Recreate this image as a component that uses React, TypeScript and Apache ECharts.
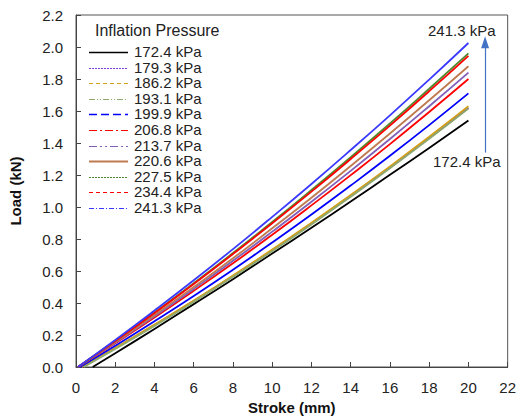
import React, { useEffect, useRef } from "react";
import * as echarts from "echarts";

const strokeTicks = [2, 4, 6, 8, 10, 12, 14, 16, 18, 20];

const pressures = [
  "172.4 kPa", "179.3 kPa", "186.2 kPa", "193.1 kPa", "199.9 kPa", "206.8 kPa",
  "213.7 kPa", "220.6 kPa", "227.5 kPa", "234.4 kPa", "241.3 kPa",
];

const startStroke = [0.85, 0.3, 0.3, 0.4, 0.2, 0.1, 0.1, 0.1, 0.1, 0.1, 0.1];

const load1724 = [0.086, 0.238, 0.393, 0.549, 0.709, 0.870, 1.034, 1.201, 1.369, 1.54];
const load1793 = [0.118, 0.263, 0.413, 0.568, 0.729, 0.896, 1.069, 1.246, 1.430, 1.62];
const load1862 = [0.119, 0.265, 0.415, 0.572, 0.734, 0.902, 1.075, 1.254, 1.439, 1.63];
const load1931 = [0.112, 0.256, 0.407, 0.563, 0.724, 0.891, 1.064, 1.242, 1.426, 1.615];
const load1999 = [0.133, 0.286, 0.444, 0.608, 0.778, 0.953, 1.134, 1.320, 1.512, 1.71];
const load2068 = [0.148, 0.309, 0.476, 0.648, 0.826, 1.010, 1.199, 1.393, 1.594, 1.80];
const load2137 = [0.152, 0.317, 0.488, 0.664, 0.846, 1.033, 1.226, 1.425, 1.630, 1.84];
const load2206 = [0.156, 0.325, 0.500, 0.680, 0.867, 1.058, 1.256, 1.459, 1.667, 1.88];
const load2275 = [0.163, 0.341, 0.524, 0.712, 0.906, 1.106, 1.311, 1.522, 1.739, 1.96];
const load2344 = [0.162, 0.337, 0.519, 0.706, 0.898, 1.096, 1.300, 1.509, 1.724, 1.945];
const load2413 = [0.169, 0.353, 0.542, 0.737, 0.938, 1.144, 1.356, 1.573, 1.796, 2.025];

const loads = [
  load1724, load1793, load1862, load1931, load1999, load2068,
  load2137, load2206, load2275, load2344, load2413,
];

const colors = [
  "#000000", "#7B3FD8", "#D4A017", "#8EAA6E", "#0000FF", "#FF0000",
  "#7F5FB8", "#C07A50", "#4F8A30", "#FF0000", "#3A3AFF",
];

const legendDash: any[] = [
  null, [2, 1], [4, 3], [6, 2, 1, 2, 1, 2], [8, 4], [8, 3, 2, 3],
  [8, 3, 2, 3, 2, 3], null, [2, 1], [4, 3], [5, 2, 1, 2],
];

const legendWidth = [1.5, 1, 1.2, 1.2, 1.5, 1.2, 1.2, 2, 1, 1.2, 1.2];

const arrowX = 20.85;
const arrowBottom = 1.34;
const arrowTop = 2.03;

const FONT = "'Liberation Sans', Arial, sans-serif";

export default function App() {
  const ref = useRef<HTMLDivElement>(null);

  useEffect(() => {
    if (!ref.current) return;
    const chart = echarts.init(ref.current, undefined, { renderer: "svg" });

    const series: any[] = pressures.map((name, i) => ({
      name,
      type: "line",
      symbol: "none",
      smooth: true,
      lineStyle: { color: colors[i], width: 1.8, type: "solid" },
      itemStyle: { color: colors[i] },
      data: [[startStroke[i], 0], ...strokeTicks.map((x, k) => [x, loads[i][k]])],
      z: 2 + i,
    }));

    series.push({
      name: "arrow",
      type: "line",
      data: [],
      markLine: {
        silent: true,
        symbol: ["none", "triangle"],
        symbolSize: [8, 12],
        label: { show: false },
        lineStyle: { color: "#4472C4", width: 1.2, type: "solid" },
        data: [[{ coord: [arrowX, arrowBottom] }, { coord: [arrowX, arrowTop] }]],
      },
    });

    const legendLines = pressures.map((_, i) => {
      const y = Math.round(52 + i * 15.6) + 0.5;
      return {
        type: "line",
        silent: true,
        shape: { x1: 89, y1: y, x2: 128, y2: y },
        style: {
          stroke: colors[i],
          lineWidth: legendWidth[i],
          lineDash: legendDash[i] || undefined,
        },
        z: 100,
      };
    });

    chart.setOption({
      animation: false,
      textStyle: { fontFamily: FONT },
      grid: {
        left: 73,
        right: 7,
        top: 15,
        bottom: 53,
        show: true,
        borderColor: "#555",
        borderWidth: 1,
        backgroundColor: "transparent",
      },
      title: {
        text: "Inflation Pressure",
        left: 95,
        top: 22,
        padding: 0,
        textStyle: { fontSize: 16, fontWeight: "normal", color: "#222", fontFamily: FONT },
      },
      legend: {
        orient: "vertical",
        left: 88,
        top: 44,
        padding: 0,
        itemWidth: 40,
        itemHeight: 10,
        itemGap: 0.6,
        textStyle: { fontSize: 15, color: "#222", fontFamily: FONT },
        data: pressures.map((name) => ({
          name,
          itemStyle: { opacity: 0 },
          lineStyle: { opacity: 0 },
        })),
      },
      xAxis: {
        type: "value",
        min: 0,
        max: 22,
        interval: 2,
        name: "Stroke (mm)",
        nameLocation: "middle",
        nameGap: 33,
        nameTextStyle: { fontSize: 15, fontWeight: "bold", color: "#111", fontFamily: FONT },
        axisLine: { show: true, lineStyle: { color: "#444" } },
        axisTick: { show: true, inside: true, length: 5, lineStyle: { color: "#444" } },
        axisLabel: { fontSize: 15, color: "#222", margin: 13, fontFamily: FONT },
        splitLine: { show: false },
      },
      yAxis: {
        type: "value",
        min: 0,
        max: 2.2,
        interval: 0.2,
        name: "Load (kN)",
        nameLocation: "middle",
        nameGap: 53,
        nameRotate: 90,
        nameTextStyle: { fontSize: 15, fontWeight: "bold", color: "#111", fontFamily: FONT },
        axisLine: { show: true, lineStyle: { color: "#444" } },
        axisTick: { show: true, inside: true, length: 5, lineStyle: { color: "#444" } },
        axisLabel: {
          fontSize: 15,
          color: "#222",
          margin: 13,
          fontFamily: FONT,
          formatter: (v: number) => v.toFixed(1),
        },
        splitLine: { show: false },
      },
      graphic: [
        ...legendLines,
        {
          type: "text",
          left: 428,
          top: 23,
          style: { text: "241.3 kPa", fontSize: 15, fill: "#222", fontFamily: FONT },
        },
        {
          type: "text",
          left: 433,
          top: 154,
          style: { text: "172.4 kPa", fontSize: 15, fill: "#222", fontFamily: FONT },
        },
      ],
      series,
    });

    return () => chart.dispose();
  }, []);

  return (
    <div
      ref={ref}
      style={{ position: "fixed", left: 0, top: 0, width: 519, height: 420, background: "#fff" }}
    />
  );
}
